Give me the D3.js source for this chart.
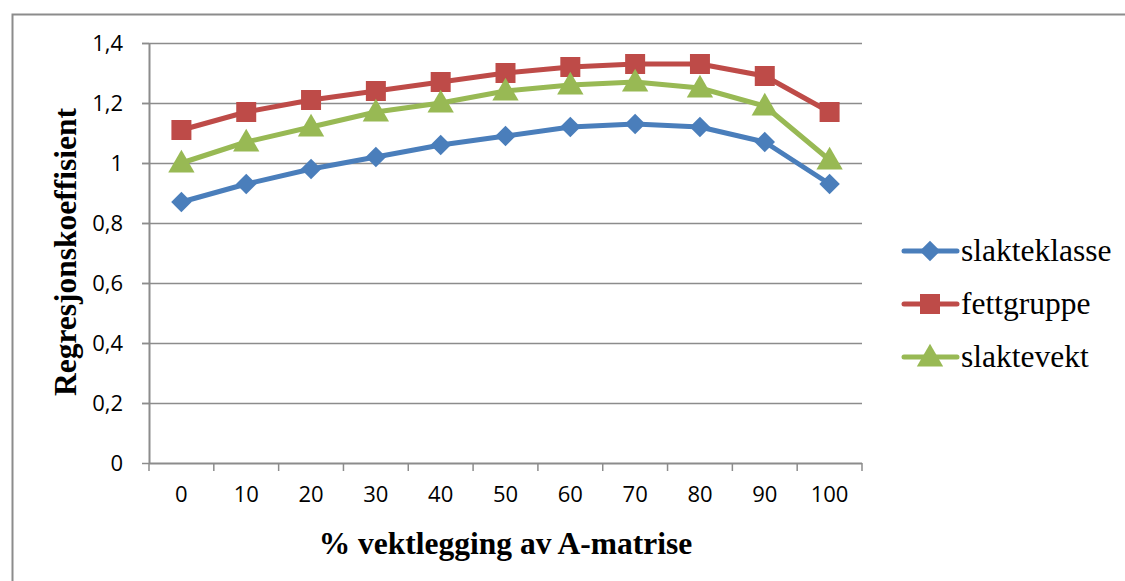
<!DOCTYPE html>
<html>
<head>
<meta charset="utf-8">
<script src="https://cdn.jsdelivr.net/npm/d3@7"></script>
<style>
  body { margin: 0; background: #fff; }
</style>
</head>
<body>
<div id="chart"></div>
<script>
// data
var categories = ["0", "10", "20", "30", "40", "50", "60", "70", "80", "90", "100"];
var slakteklasse = [0.87, 0.93, 0.98, 1.02, 1.06, 1.09, 1.12, 1.13, 1.12, 1.07, 0.93];
var fettgruppe = [1.11, 1.17, 1.21, 1.24, 1.27, 1.30, 1.32, 1.33, 1.33, 1.29, 1.17];
var slaktevekt = [1.00, 1.07, 1.12, 1.17, 1.20, 1.24, 1.26, 1.27, 1.25, 1.19, 1.01];
var yTicks = [0, 0.2, 0.4, 0.6, 0.8, 1, 1.2, 1.4];
var seriesNames = ["slakteklasse", "fettgruppe", "slaktevekt"];

function drawChart() {
  var W = 1125, H = 581;
  var margin = { top: 43, left: 149, right: 1125 - 862, bottom: 581 - 463 },
    width = W - margin.left - margin.right,
    height = H - margin.top - margin.bottom;

  var svg = d3.select("#chart")
    .append("svg")
    .attr("width", W)
    .attr("height", H);

  // outer frame (only top and left visible in the reference)
  svg.append("path")
    .attr("d", "M12.5," + H + " L12.5,14.5 L" + W + ",14.5")
    .attr("fill", "none")
    .attr("stroke", "#8c8c8c")
    .attr("stroke-width", 2);

  var g = svg.append("g")
    .attr("transform", "translate(" + margin.left + "," + margin.top + ")");

  var x = d3.scaleBand().domain(categories).range([0, width]);
  var y = d3.scaleLinear().domain([0, 1.4]).range([height, 0]);

  var color = d3.scaleOrdinal()
    .domain(seriesNames)
    .range(["#4a7ebb", "#be4b48", "#98b954"]);

  // gridlines
  g.selectAll(".grid")
    .data(yTicks.slice(1))
    .enter()
    .append("line")
    .attr("x1", -7)
    .attr("x2", width)
    .attr("y1", function (d) { return Math.round(y(d)) + 0.5; })
    .attr("y2", function (d) { return Math.round(y(d)) + 0.5; })
    .attr("stroke", "#8c8c8c")
    .attr("stroke-width", 1.5);

  // Y axis
  var yAxis = g.append("g")
    .call(d3.axisLeft(y).tickValues(yTicks).tickSize(7)
      .tickFormat(function (d) { return String(d).replace(".", ","); }));
  yAxis.select(".domain").attr("stroke", "#8c8c8c").attr("stroke-width", 2).attr("d", "M0.5," + height + "V0");
  yAxis.selectAll(".tick line").attr("stroke", "#8c8c8c").attr("stroke-width", 1.5);
  yAxis.selectAll(".tick text")
    .attr("x", -26)
    .style("font-family", "'Open Sans', sans-serif")
    .style("font-size", "22px")
    .attr("fill", "#000");

  // X axis
  var xAxis = g.append("g")
    .attr("transform", "translate(0," + height + ")")
    .call(d3.axisBottom(x).tickSize(0));
  xAxis.select(".domain").attr("stroke", "#8c8c8c").attr("stroke-width", 2).attr("d", "M0," + 0.5 + "H" + width);
  xAxis.selectAll(".tick text")
    .attr("y", 23)
    .attr("dy", "0.71em")
    .style("font-family", "'Open Sans', sans-serif")
    .style("font-size", "22px")
    .attr("fill", "#000");
  // tick marks between categories
  xAxis.selectAll(".sep")
    .data(d3.range(categories.length + 1))
    .enter()
    .append("line")
    .attr("x1", function (i) { return i * x.step(); })
    .attr("x2", function (i) { return i * x.step(); })
    .attr("y1", 0)
    .attr("y2", 8)
    .attr("stroke", "#8c8c8c")
    .attr("stroke-width", 1.5);

  // axis titles
  svg.append("text")
    .attr("x", margin.left + width / 2)
    .attr("y", 554)
    .attr("text-anchor", "middle")
    .style("font-family", "'Liberation Serif', serif")
    .style("font-weight", "bold")
    .style("font-size", "31.5px")
    .text("% vektlegging av A-matrise");

  svg.append("text")
    .attr("transform", "translate(76,252) rotate(-90)")
    .attr("text-anchor", "middle")
    .style("font-family", "'Liberation Serif', serif")
    .style("font-weight", "bold")
    .style("font-size", "31.5px")
    .text("Regresjonskoeffisient");

  var data = [
    { name: "slakteklasse", values: slakteklasse },
    { name: "fettgruppe", values: fettgruppe },
    { name: "slaktevekt", values: slaktevekt }
  ];

  var cx = function (i) { return x(categories[i]) + x.bandwidth() / 2; };

  var line = d3.line()
    .x(function (d, i) { return cx(i); })
    .y(function (d) { return y(d); });

  // diamond = rotated square, as in the reference
  var symbols = {
    slakteklasse: d3.symbol().type(d3.symbolSquare).size(210),
    fettgruppe: d3.symbol().type(d3.symbolSquare).size(400),
    slaktevekt: d3.symbol().type(d3.symbolTriangle).size(300)
  };
  var symTransform = function (name) {
    if (name === "slakteklasse") return " rotate(45)";
    if (name === "slaktevekt") return " translate(0,2)";
    return "";
  };

  data.forEach(function (s) {
    g.append("path")
      .datum(s.values)
      .attr("d", line)
      .attr("fill", "none")
      .attr("stroke", color(s.name))
      .attr("stroke-width", 5)
      .attr("stroke-linejoin", "round");

    g.selectAll(".pt-" + s.name)
      .data(s.values)
      .enter()
      .append("path")
      .attr("d", symbols[s.name])
      .attr("transform", function (d, i) {
        return "translate(" + cx(i) + "," + y(d) + ")" + symTransform(s.name);
      })
      .attr("fill", color(s.name));
  });

  // legend
  var legend = svg.append("g").attr("transform", "translate(900,251)");
  var items = legend.selectAll("g")
    .data(seriesNames)
    .enter()
    .append("g")
    .attr("transform", function (d, i) { return "translate(0," + i * 53 + ")"; });
  items.append("line")
    .attr("x1", 4).attr("x2", 57).attr("y1", 0).attr("y2", 0)
    .attr("stroke", function (d) { return color(d); })
    .attr("stroke-width", 5)
    .attr("stroke-linecap", "round");
  items.append("path")
    .attr("d", function (d) { return symbols[d](); })
    .attr("transform", function (d) { return "translate(30,0)" + symTransform(d); })
    .attr("fill", function (d) { return color(d); });
  items.append("text")
    .attr("x", 61)
    .attr("y", 0)
    .attr("dy", "0.32em")
    .style("font-family", "'Liberation Serif', serif")
    .style("font-size", "31.5px")
    .text(function (d) { return d; });
}

drawChart();
</script>
</body>
</html>
